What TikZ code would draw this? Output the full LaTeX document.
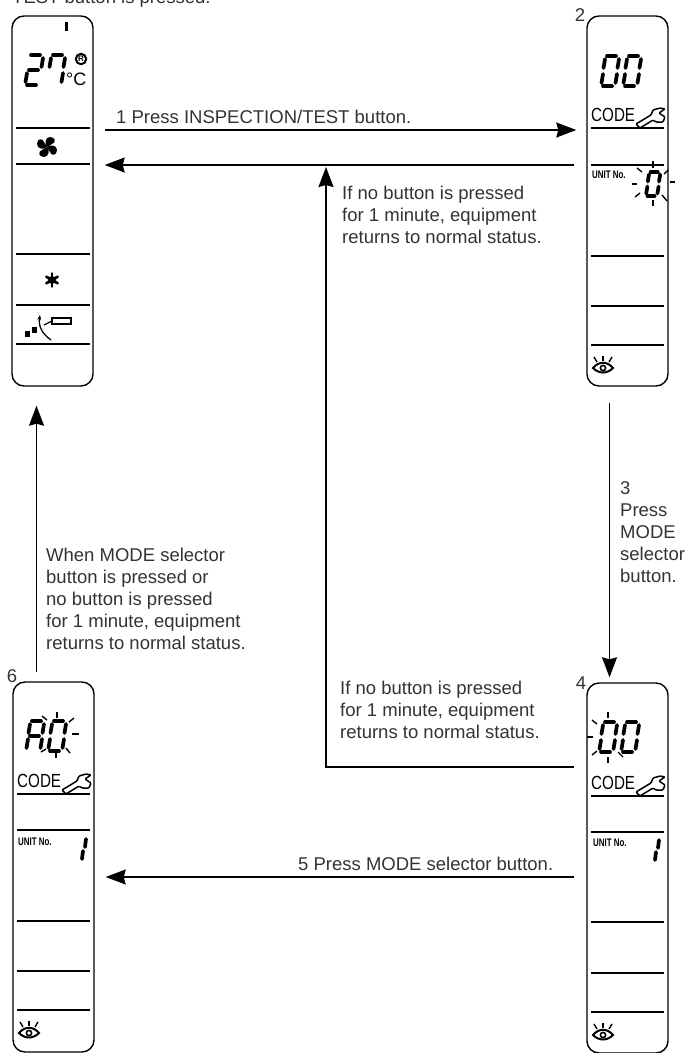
\documentclass[tikz,border=0pt]{standalone}
\usepackage{fontspec}
\usepackage{graphicx}
\setmainfont{Liberation Sans}
\usetikzlibrary{arrows.meta}

\tikzset{
    panel/.style={draw=black, line width=1.4pt, rounded corners=12pt, inner sep=0pt, minimum width=81pt, minimum height=370pt},
    rulebar/.style={draw=black, line width=1.4pt},
    flow/.style={draw=black, line width=1.4pt, -{Stealth[length=20pt,width=15pt,inset=2pt]}},
    lcdbar/.style={draw=black, line width=3.7pt, line cap=round},
    ray/.style={draw=black, line width=1.4pt},
    note/.style={text=black!80, inner sep=0pt, align=left, anchor=west, font=\fontsize{18.5}{22}\selectfont},
    stepno/.style={text=black!80, inner sep=0pt, font=\fontsize{18.5}{20}\selectfont}
}

% seven segments of one display digit
\newcommand{\lcdsega}{\draw[lcdbar] (7,0) -- (16,0);}
\newcommand{\lcdsegb}{\draw[lcdbar] (19,3) -- (17.5,12);}
\newcommand{\lcdsegc}{\draw[lcdbar] (17,18) -- (15.5,27);}
\newcommand{\lcdsegd}{\draw[lcdbar] (3,30) -- (12,30);}
\newcommand{\lcdsege}{\draw[lcdbar] (3,18) -- (1.5,27);}
\newcommand{\lcdsegf}{\draw[lcdbar] (5,3) -- (3.5,12);}
\newcommand{\lcdsegg}{\draw[lcdbar] (5,15) -- (14,15);}
\newcommand{\lcddigit}[4]{
    \begin{scope}[shift={(#1,#2)}, scale=#3]
        \foreach \s in {#4} {\csname lcdseg\s\endcsname}
    \end{scope}
}

% CODE label and spanner, origin at left end of the rule under them
\newcommand{\codesign}[3]{
    \begin{scope}[shift={(#1,#2)}]
        \node[inner sep=0pt, anchor=base west, font=\fontsize{19}{19}\selectfont] (#3) at (4,-7) {\scalebox{.8}[1]{CODE}};
        \draw[line width=1.5pt, fill=white, rounded corners=1pt] (49,-4) -- (64,-13) -- (66,-18) -- (73,-20) -- (78,-19) -- (72,-15) -- (78,-11) -- (76,-6) -- (69,-6) -- (66,-8) -- (53,0) -- cycle;
    \end{scope}
}

% eye symbol
\newcommand{\eyesign}[2]{
    \begin{scope}[shift={(#1,#2)}]
        \draw[line width=2pt] (-10,0) .. controls (-4,-7) and (4,-7) .. (10,0) .. controls (4,6) and (-4,6) .. (-10,0) -- cycle;
        \draw[line width=1.6pt] (0,0) circle (2.6);
        \foreach \xa/\ya/\xb/\yb in {-9/-11/-6/-6, 0/-12/0/-7, 9/-11/6/-6} {
            \draw[line width=1.4pt] (\xa,\ya) -- (\xb,\yb);
        }
    \end{scope}
}

\newcommand{\unitsign}[3]{
    \node[inner sep=0pt, anchor=west, font=\bfseries\fontsize{11}{11}\selectfont] (#3) at (#1,#2) {\scalebox{.72}[1]{UNIT No.}};
}

\begin{document}
\begin{tikzpicture}[x=1pt, y=-1pt]
    \useasboundingbox (0,0) rectangle (685,1053);

    % the four remote control displays
    \node[panel] (panelA) at (52.5,201) {};
    \node[panel] (panelB) at (627.5,201) {};
    \node[panel] (panelC) at (53.5,867) {};
    \node[panel] (panelD) at (627.5,868) {};

    \foreach \y in {128,164,254,305,344} {\draw[rulebar] (16,\y) -- (90,\y);}
    \foreach \y in {128,165,256,306,345} {\draw[rulebar] (591,\y) -- (664,\y);}
    \foreach \y in {794,830,921,971,1010} {\draw[rulebar] (17,\y) -- (90,\y);}
    \foreach \y in {796,832,922,973,1012} {\draw[rulebar] (591,\y) -- (664,\y);}

    % panel A
    \draw[line width=3pt] (66,22) -- (66,31);
    \lcddigit{24}{55}{1}{a,b,g,e,d}
    \lcddigit{46}{55}{1}{f,a,b,c}
    \draw[line width=2pt] (81,59) circle (5.2);
    \node[inner sep=0pt, font=\bfseries\fontsize{8}{8}\selectfont] (regmark) at (81,59) {R};
    \node[inner sep=0pt, anchor=west, font=\fontsize{18}{18}\selectfont] (degsign) at (66,79) {°C};
    % fan
    \begin{scope}[shift={(47,147)}]
        \foreach \a in {0,90,180,270} {
            \fill[rotate=\a] (0,0) .. controls (-3,-3) and (-2,-10) .. (3,-10) .. controls (9,-10) and (9,-4) .. (5,-3) .. controls (3,-2) and (2,-1) .. (0,0) -- cycle;
        }
    \end{scope}
    % snow
    \begin{scope}[shift={(52,280)}]
        \foreach \a in {30,90,150,210,270,330} {
            \draw[rotate=\a, line width=2.8pt, line cap=round] (0,0) -- (6.5,0);
        }
        \fill (0,0) circle (4);
    \end{scope}
    % louvre
    \fill (25,331) rectangle (30,337);
    \fill (32,327) rectangle (37,333);
    \draw[line width=1.3pt, -{Stealth[length=5pt,width=4pt]}] (51,340) .. controls (44,335) and (38,328) .. (40,315);
    \draw[line width=1.3pt] (44,325) -- (52,321);
    \draw[line width=1.4pt] (52,318) rectangle (71,324);

    % panel B
    \lcddigit{600}{56}{1}{a,b,c,d,e,f}
    \lcddigit{622}{56}{1}{a,b,c,d,e,f}
    \codesign{587}{128}{codeB}
    \unitsign{592}{175}{unitB}
    \lcddigit{645}{172}{.8}{a,b,c,d,e,f}
    \foreach \xa/\ya/\xb/\yb in {653/161/653/168, 637/168/642/172, 664/174/668/170, 670/182/675/182, 632/184/637/184, 635/197/640/193, 653/200/653/206, 662/195/667/201} {
        \draw[ray] (\xa,\ya) -- (\xb,\yb);
    }
    \eyesign{603}{368}

    % panel C
    \lcddigit{25}{721}{1}{a,b,c,e,f,g}
    \lcddigit{47}{721}{1}{a,b,c,d,e,f}
    \foreach \xa/\ya/\xb/\yb in {57/712/57/718, 42/716/47/720, 69/722/74/718, 72/734/79/734, 66/748/70/753, 56/752/56/758, 41/752/46/749} {
        \draw[ray] (\xa,\ya) -- (\xb,\yb);
    }
    \codesign{13}{794}{codeC}
    \unitsign{18}{842}{unitC}
    \draw[lcdbar] (86,839) -- (85,847);
    \draw[lcdbar] (83,851) -- (82,859);
    \eyesign{29}{1033}

    % panel D
    \lcddigit{598}{722}{1}{a,b,c,d,e,f}
    \lcddigit{620}{722}{1}{a,b,c,d,e,f}
    \foreach \xa/\ya/\xb/\yb in {608/712/608/718, 592/720/597/724, 587/737/593/737, 592/755/597/751, 608/757/608/763, 618/752/623/757} {
        \draw[ray] (\xa,\ya) -- (\xb,\yb);
    }
    \codesign{587}{796}{codeD}
    \unitsign{593}{843}{unitD}
    \draw[lcdbar] (659,840) -- (658,848);
    \draw[lcdbar] (656,852) -- (655,860);
    \eyesign{603}{1035}

    % step numbers
    \node[stepno] (numB) at (580,15) {2};
    \node[stepno] (numD) at (581,683) {4};
    \node[stepno] (numC) at (12,676) {6};

    % connectors
    \draw[flow] ([xshift=11pt,yshift=71pt]panelA.east) -- ([xshift=-10pt,yshift=71pt]panelB.west);
    \draw[flow] ([xshift=-12pt,yshift=36pt]panelB.west) -- ([xshift=11pt,yshift=36pt]panelA.east);
    \draw[flow] ([xshift=-12pt,yshift=101pt]panelD.west) -- (326,767) -- (326,167);
    \draw[flow] ([xshift=-18pt,yshift=-16pt]panelB.south) -- ([xshift=-18pt,yshift=5pt]panelD.north);
    \draw[flow] ([xshift=-12pt,yshift=-9pt]panelD.west) -- ([xshift=11pt,yshift=-10pt]panelC.east);
    \draw[flow] ([xshift=-17pt,yshift=9pt]panelC.north) -- ([xshift=-16pt,yshift=-19pt]panelA.south);

    % texts
    \node[note] (topnote) at (12,-1) {TEST button is pressed.};
    \node[note] (stepone) at (116,117) {1 Press INSPECTION/TEST button.};
    \node[note] (waitB) at (342,215) {If no button is pressed\\for 1 minute, equipment\\returns to normal status.};
    \node[note] (stepthree) at (620,532) {3\\Press\\MODE\\selector\\button.};
    \node[note] (waitC) at (46,599) {When MODE selector\\button is pressed or\\no button is pressed\\for 1 minute, equipment\\returns to normal status.};
    \node[note] (waitD) at (340,710) {If no button is pressed\\for 1 minute, equipment\\returns to normal status.};
    \node[note] (stepfive) at (298,864) {5 Press MODE selector button.};
\end{tikzpicture}
\end{document}
